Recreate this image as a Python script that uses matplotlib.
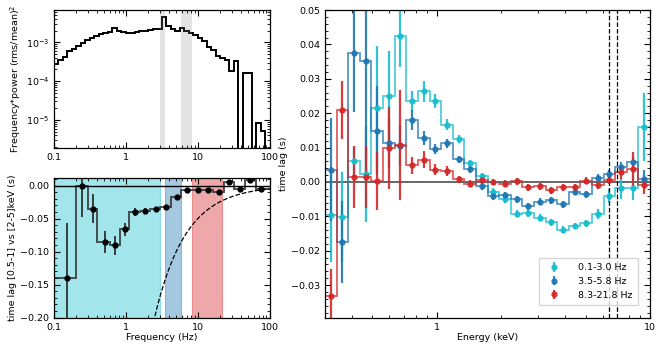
import numpy as np
import matplotlib
matplotlib.use('Agg')
from matplotlib import pyplot as plt
from matplotlib.ticker import FixedLocator, FuncFormatter, NullFormatter, MultipleLocator, LogLocator

# power spectrum (frequency*power), 48 log bins from 0.1 to 100 Hz
pds_lo, pds_hi, pds_nbin = 0.1, 100.0, 48
pds_power = [2.8e-4, 3.5e-4, 4.2e-4, 5.8e-4, 6.9e-4, 7.9e-4, 9.3e-4, 1.12e-3,
             1.26e-3, 1.45e-3, 1.66e-3, 1.78e-3, 1.82e-3, 2.29e-3, 2.0e-3, 1.86e-3,
             1.78e-3, 1.74e-3, 1.82e-3, 1.9e-3, 2.0e-3, 2.09e-3, 2.14e-3, 2.24e-3,
             4.4e-3, 2.6e-3, 2.2e-3, 1.9e-3, 2.3e-3, 2.0e-3, 1.74e-3, 1.58e-3,
             1.32e-3, 1.1e-3, 7.6e-4, 6.3e-4, 4.3e-4, 4.0e-4, 3.5e-4, 1.8e-4,
             3.2e-4, 1e-9, 1.6e-4, 1.6e-4, 1e-9, 8.3e-6, 5.1e-6, 1e-9]

# lag vs frequency ([0.5-1] vs [2-5] keV)
lf_edges = [0.1, 0.2, 0.3, 0.4, 0.6, 0.82, 1.1, 1.55, 2.15, 3.0, 4.2, 5.9,
            8.3, 11.6, 16.3, 22.8, 32, 45, 64, 100]
lf_freq = [0.15, 0.249, 0.35, 0.51, 0.71, 0.97, 1.32, 1.84, 2.6, 3.6, 5.1,
           7.1, 10, 13.9, 19.5, 27.5, 38.5, 53.5, 75]
lf_lag = [-0.140, 0.000, -0.035, -0.0855, -0.0905, -0.0665, -0.0405, -0.038,
          -0.035, -0.032, -0.0175, -0.0065, -0.0065, -0.0075, -0.0105, 0.005,
          -0.0055, 0.0085, -0.005]
lf_err = [0.083, 0.048, 0.022, 0.017, 0.014, 0.010, 0.006, 0.004, 0.003,
          0.003, 0.003, 0.002, 0.002, 0.002, 0.002, 0.002, 0.002, 0.002, 0.002]

# frequency ranges used for the lag-energy spectra
bands = [(0.1, 3.0), (3.5, 5.8), (8.3, 21.8)]
band_colors = ['tab:cyan', 'tab:blue', 'tab:red']
band_labels = ['0.1-3.0 Hz', '3.5-5.8 Hz', '8.3-21.8 Hz']

# lag vs energy, 28 log bins from 0.3 to 10 keV
en_lo, en_hi, en_nbin = 0.3, 10.0, 28
lag_low = [-0.0097, -0.0102, 0.0060, 0.0024, 0.0216, 0.0250, 0.0425, 0.0235,
           0.0264, 0.0235, 0.0167, 0.0126, 0.0054, 0.0017, -0.0028, -0.0050,
           -0.0092, -0.0091, -0.0104, -0.0117, -0.0139, -0.0128, -0.0120,
           -0.0093, -0.0041, -0.0019, -0.0017, 0.0160]
err_low = [0.0135, 0.013, 0.004, 0.014, 0.018, 0.013, 0.009, 0.003, 0.003,
           0.002, 0.0015, 0.0012, 0.001, 0.001, 0.001, 0.001, 0.001, 0.001,
           0.001, 0.001, 0.001, 0.001, 0.001, 0.0015, 0.002, 0.003, 0.0035, 0.010]
lag_mid = [0.0036, -0.0175, 0.0374, 0.0353, 0.0149, 0.0112, 0.0105, 0.0180,
           0.0127, 0.0095, 0.0112, 0.0066, 0.0037, -0.0013, -0.0042, -0.0039,
           -0.0051, -0.0071, -0.0058, -0.0053, -0.0065, -0.0029, -0.0036,
           0.0012, 0.0022, 0.0044, 0.0057, 0.0010]
err_mid = [0.015, 0.012, 0.017, 0.035, 0.013, 0.007, 0.006, 0.003, 0.002,
           0.0015, 0.0012, 0.001, 0.001, 0.001, 0.001, 0.001, 0.001, 0.001,
           0.001, 0.001, 0.001, 0.001, 0.001, 0.001, 0.0012, 0.0015, 0.0015, 0.0025]
lag_high = [-0.0333, 0.0209, 0.0015, 0.0014, 0.0002, 0.0099, 0.0107, 0.0049,
            0.0065, 0.0036, 0.0031, 0.0008, -0.0005, 0.0005, 0.0000, -0.0005,
            0.0002, -0.0016, -0.0013, -0.0024, -0.0016, -0.0016, 0.0003,
            -0.0010, 0.0005, 0.0029, 0.0037, -0.0010]
err_high = [0.008, 0.0085, 0.009, 0.009, 0.0085, 0.012, 0.016, 0.0025, 0.0025,
            0.0015, 0.0015, 0.001, 0.001, 0.001, 0.001, 0.001, 0.001, 0.001,
            0.001, 0.001, 0.001, 0.001, 0.001, 0.001, 0.0012, 0.002, 0.005, 0.0025]
fe_lines = [6.4, 7.0]

plt.rcParams['font.size'] = 6.8
plt.rcParams['axes.linewidth'] = 0.9

fig = plt.figure(figsize=(6.64, 3.54), dpi=100)
ax_p = fig.add_axes([0.0813, 0.582, 0.325, 0.39])
ax_l = fig.add_axes([0.0813, 0.1025, 0.325, 0.394])
ax_e = fig.add_axes([0.4895, 0.1025, 0.4895, 0.869])


def style(ax):
    ax.tick_params(which='both', direction='in', top=True, right=True)
    ax.tick_params(which='major', length=4, width=0.8)
    ax.tick_params(which='minor', length=2, width=0.6)


def freq_axis(ax):
    ax.set_xscale('log')
    ax.set_xlim(0.1, 100)
    ax.xaxis.set_major_locator(FixedLocator([0.1, 1, 10, 100]))
    ax.xaxis.set_major_formatter(FuncFormatter(lambda v, p: '%g' % v))
    ax.xaxis.set_minor_locator(LogLocator(base=10, subs=np.arange(2, 10)))
    ax.xaxis.set_minor_formatter(NullFormatter())


# power spectrum
pds_edges = np.geomspace(pds_lo, pds_hi, pds_nbin + 1)
ax_p.stairs(pds_power, pds_edges, color='black', lw=1.4, baseline=None)
for (a, b), (c, d) in zip(bands[:-1], bands[1:]):
    ax_p.axvspan(b, c, color='gray', alpha=0.22, lw=0)
ax_p.set_yscale('log')
ax_p.set_ylim(1.9e-6, 6.8e-3)
freq_axis(ax_p)
ax_p.set_ylabel('Frequency*power (rms/mean)$^2$', labelpad=2)
style(ax_p)

# lag vs frequency
for (a, b), c in zip(bands, band_colors):
    ax_l.axvspan(a, b, color=c, alpha=0.4, lw=0.8)
ax_l.axhline(0, color='black', lw=1)
ax_l.stairs(lf_lag, lf_edges, color='#333333', lw=1.4, alpha=0.85, baseline=None)
ax_l.errorbar(lf_freq, lf_lag, yerr=lf_err, fmt='o', color='black', ms=3.5,
              ecolor='#222222', elinewidth=1.2, capsize=0)
f_model = np.geomspace(0.1, 100, 300)
ax_l.plot(f_model, -1.0 / (2.0 * f_model), 'k--', lw=0.9)
freq_axis(ax_l)
ax_l.set_ylim(-0.2, 0.011)
ax_l.yaxis.set_major_locator(MultipleLocator(0.05))
ax_l.yaxis.set_minor_locator(MultipleLocator(0.01))
ax_l.yaxis.set_major_formatter(FuncFormatter(lambda v, p: ('%.2f' % v).replace('-', '\u2212')))
ax_l.set_xlabel('Frequency (Hz)', labelpad=1)
ax_l.set_ylabel('time lag [0.5-1] vs [2-5]keV (s)', labelpad=2)
style(ax_l)

# lag vs energy
en_edges = np.geomspace(en_lo, en_hi, en_nbin + 1)
energy = np.sqrt(en_edges[:-1] * en_edges[1:])
ax_e.axhline(0, color='#666666', lw=1.4)
for lag, err, c, lab in zip([lag_low, lag_mid, lag_high], [err_low, err_mid, err_high],
                            band_colors, band_labels):
    ax_e.stairs(lag, en_edges, color=c, lw=1.3, alpha=0.75, baseline=None)
    ax_e.errorbar(energy, lag, yerr=err, fmt='o', color=c, ms=3.5, ecolor=c,
                  elinewidth=1.6, capsize=0, alpha=0.9, label=lab)
for e in fe_lines:
    ax_e.axvline(e, color='black', ls='--', lw=0.9)
ax_e.set_xscale('log')
ax_e.set_xlim(en_lo, en_hi)
ax_e.set_ylim(-0.0395, 0.05)
ax_e.xaxis.set_major_locator(FixedLocator([1, 10]))
ax_e.xaxis.set_major_formatter(FuncFormatter(lambda v, p: '%g' % v))
ax_e.xaxis.set_minor_locator(LogLocator(base=10, subs=np.arange(2, 10)))
ax_e.xaxis.set_minor_formatter(NullFormatter())
ax_e.yaxis.set_major_locator(MultipleLocator(0.01))
ax_e.yaxis.set_minor_locator(MultipleLocator(0.002))
ax_e.yaxis.set_major_formatter(FuncFormatter(lambda v, p: ('%.2f' % v).replace('-', '\u2212')))
ax_e.set_xlabel('Energy (keV)', labelpad=1)
ax_e.set_ylabel('time lag (s)', labelpad=2)
ax_e.legend(loc='lower right', borderaxespad=1.3, fancybox=False, edgecolor='#cccccc',
            handletextpad=1.5, labelspacing=0.5, borderpad=0.6)
style(ax_e)

fig.savefig('out.png', dpi=100)
